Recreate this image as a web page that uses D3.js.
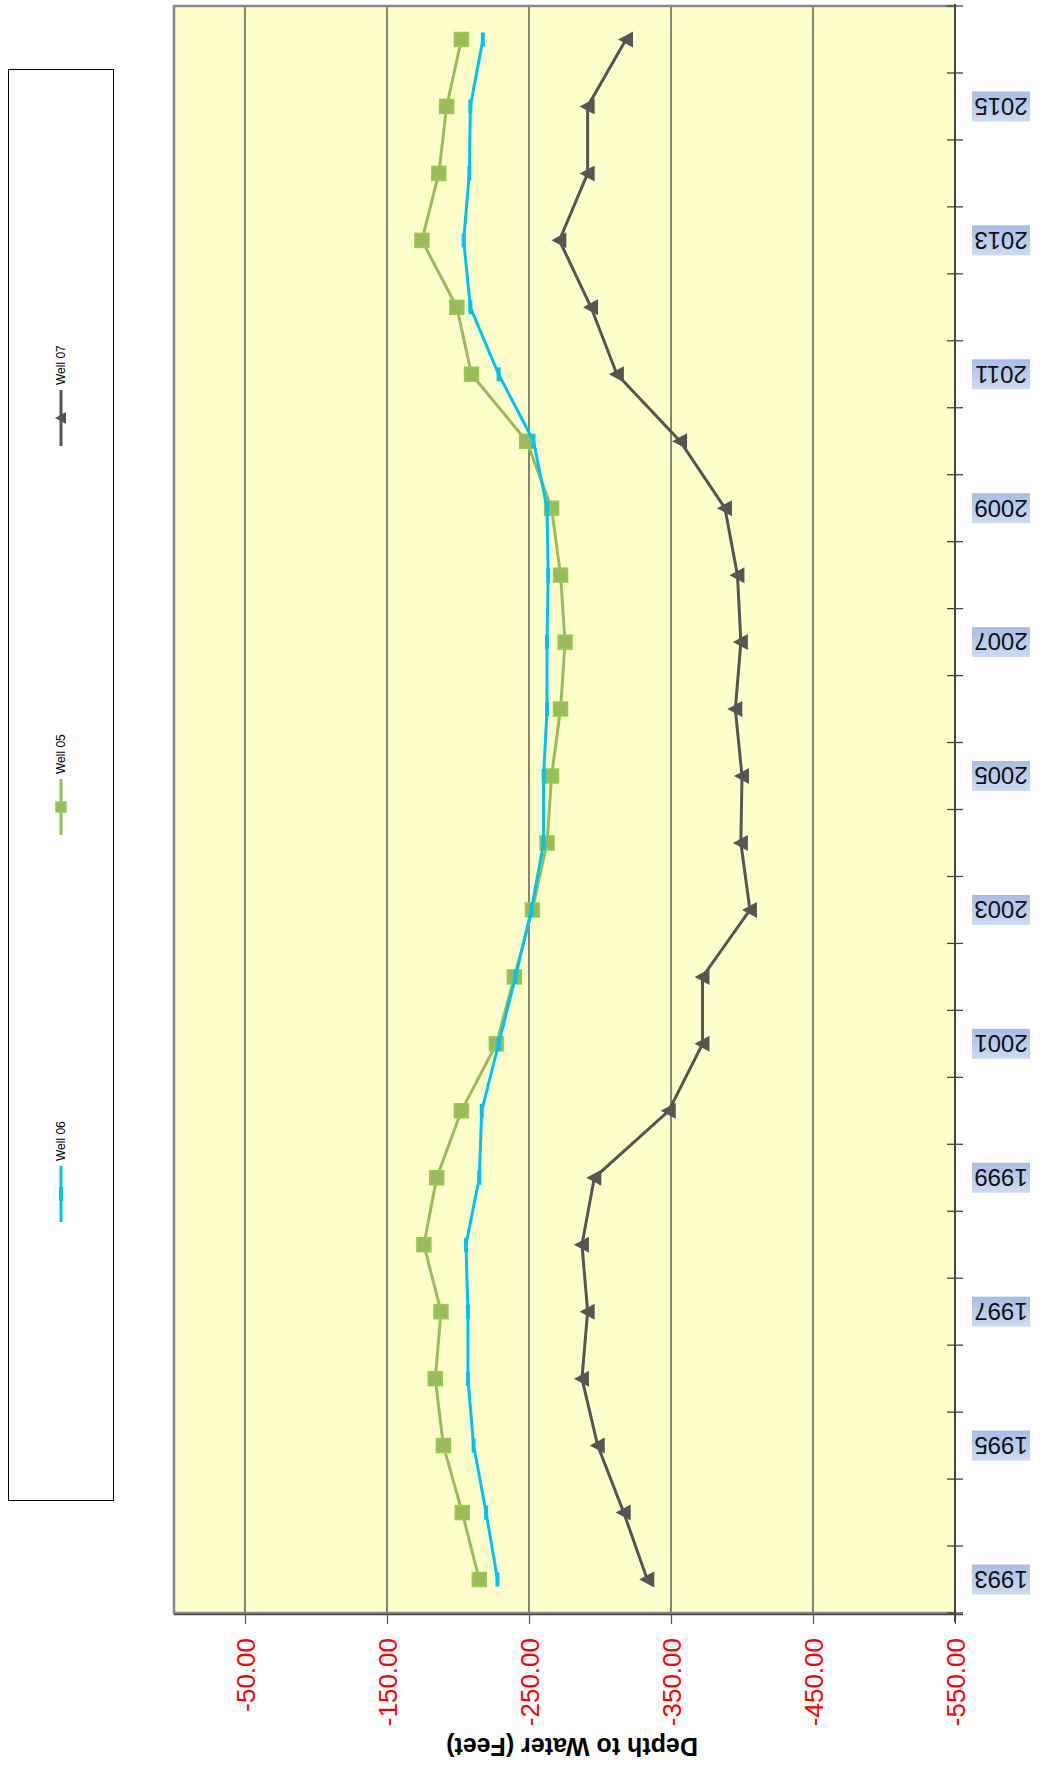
<!DOCTYPE html>
<html><head><meta charset="utf-8">
<script src="https://cdn.jsdelivr.net/npm/d3@7"></script>
<style>body{margin:0;background:#fff}svg{display:block;font-family:Arial,"Liberation Sans",sans-serif}</style>
</head><body>
<svg id="chart" width="1040" height="1767"></svg>
<script>
const years = ["1993","1994","1995","1996","1997","1998","1999","2000","2001","2002","2003","2004","2005","2006","2007","2008","2009","2010","2011","2012","2013","2014","2015","2016"];
const yearLabels = ["1993","1995","1997","1999","2001","2003","2005","2007","2009","2011","2013","2015"];
const well06 = [-227.8,-219.8,-211,-207,-207,-205.6,-215,-216.7,-228.6,-240.5,-251.6,-260.3,-260.3,-262.7,-262.7,-263.5,-262.7,-253.2,-228.6,-208.7,-204,-208,-208.7,-217.5];
const well05 = [-215,-203,-189.7,-184,-188,-176,-185,-202.4,-227,-239.7,-252.4,-262.7,-265.9,-272.2,-275.4,-272.2,-265.9,-248.4,-209.5,-199.2,-174.6,-186.5,-192,-202.4];
const well07 = [-333.3,-316.7,-298.4,-287.3,-291.3,-287.3,-296,-348.4,-372.2,-372.2,-405.6,-399.2,-400,-395.3,-399.2,-396.8,-388,-356.4,-311.9,-293.7,-271.4,-291.3,-291.3,-318.3];
const valueTicks = [-50,-150,-250,-350,-450,-550];
const seriesNames = ["Well 06","Well 05","Well 07"];

const svg = d3.select("#chart");
const L = 174, R = 955, T = 6, B = 1613;
const x = d3.scaleLinear().domain([0,-550]).range([L,R]);
const y = d3.scaleBand().domain(years.slice().reverse()).range([T,B]).padding(0);
const yc = d => y(d) + y.bandwidth()/2;

// defs
const defs = svg.append("defs");
const g1 = defs.append("linearGradient").attr("id","lblgrad").attr("x1",0).attr("y1",0).attr("x2",0).attr("y2",1);
g1.append("stop").attr("offset","0%").attr("stop-color","#a7bde6");
g1.append("stop").attr("offset","100%").attr("stop-color","#cddbf2");

// plot background
svg.append("rect").attr("x",L).attr("y",T).attr("width",R-L).attr("height",B-T).attr("fill","#ffffcc");

// gridlines
svg.append("g").selectAll("line").data(valueTicks).join("line")
  .attr("x1",d=>x(d)).attr("x2",d=>x(d)).attr("y1",T).attr("y2",B)
  .attr("stroke","#333").attr("stroke-width",1.2);

// plot border (left, top, bottom)
svg.append("path").attr("d",`M${R},${T}H${L}V${B}H${R}`).attr("fill","none").attr("stroke","#888").attr("stroke-width",2.5);

// bottom value axis
const fmt = d => d3.format(".2f")(d).replace("\u2212","-");
const xAxis = d3.axisBottom(x).tickValues(valueTicks).tickSize(10).tickSizeOuter(0).tickFormat(fmt);
const gx = svg.append("g").attr("transform",`translate(0,${B+1})`).call(xAxis);
gx.select(".domain").attr("d",`M${L},0.5H${R+8}`).attr("stroke","#444").attr("stroke-width",1.5);
gx.selectAll(".tick line").attr("stroke","#555").attr("stroke-width",1.2);
gx.selectAll(".tick text")
  .attr("fill","#ff0000").attr("font-size",26).attr("font-family","Arial, 'Liberation Sans', sans-serif")
  .attr("text-anchor","end").attr("dy","0.35em").attr("x",0).attr("y",0)
  .attr("transform","translate(0,24) rotate(-90)");

// right category axis
const bounds = years.map(d=>y(d)).concat([B]);
const ga = svg.append("g");
ga.append("line").attr("x1",R).attr("x2",R).attr("y1",T-2).attr("y2",B+9).attr("stroke","#444").attr("stroke-width",2);
ga.selectAll("line.tk").data(bounds).join("line").attr("class","tk")
  .attr("x1",R-8).attr("x2",R+8).attr("y1",d=>d).attr("y2",d=>d).attr("stroke","#444").attr("stroke-width",1.3);
const lbl = ga.selectAll("g.lbl").data(yearLabels).join("g").attr("class","lbl")
  .attr("transform",d=>`translate(1001,${yc(d)})`);
lbl.append("rect").attr("x",-29).attr("y",-15).attr("width",58).attr("height",30).attr("fill","url(#lblgrad)");
lbl.append("text").text(d=>d).attr("text-anchor","middle").attr("dy","0.36em")
  .attr("transform","rotate(180)").attr("font-size",24).attr("fill","#111");

// axis title
svg.append("text").text("Depth to Water (Feet)")
  .attr("transform","translate(572,1747) rotate(180)")
  .attr("text-anchor","middle").attr("dy","0.35em").attr("font-weight","bold").attr("font-size",25).attr("fill","#000");

// series
const line = d3.line().x(d=>x(d.v)).y(d=>yc(d.yr));
const mk = arr => arr.map((v,i)=>({yr:years[i], v}));
const s06 = mk(well06), s05 = mk(well05), s07 = mk(well07);
const colors = {w06:"#00c3f5", w05:"#9bbb59", w07:"#555555"};

function drawTri(sel){ sel.attr("d","M-8,0L7,-8L7,8Z").attr("fill",colors.w07); }
function drawSq(sel){ sel.attr("x",-7).attr("y",-7).attr("width",14).attr("height",14).attr("fill","#9bbb59").attr("stroke","#92cf50").attr("stroke-width",1.5); }
function drawDash(sel){ sel.attr("x",-2).attr("y",-7).attr("width",4).attr("height",14).attr("fill",colors.w06); }

// Well 07
svg.append("path").datum(s07).attr("d",line).attr("fill","none").attr("stroke",colors.w07).attr("stroke-width",3);
svg.append("g").selectAll("path").data(s07).join("path")
  .attr("transform",d=>`translate(${x(d.v)},${yc(d.yr)})`).call(drawTri);
// Well 05
svg.append("path").datum(s05).attr("d",line).attr("fill","none").attr("stroke",colors.w05).attr("stroke-width",3);
svg.append("g").selectAll("rect").data(s05).join("rect")
  .attr("transform",d=>`translate(${x(d.v)},${yc(d.yr)})`).call(drawSq);
// Well 06
svg.append("path").datum(s06).attr("d",line).attr("fill","none").attr("stroke",colors.w06).attr("stroke-width",3);
svg.append("g").selectAll("rect").data(s06).join("rect")
  .attr("transform",d=>`translate(${x(d.v)},${yc(d.yr)})`).call(drawDash);

// legend
svg.append("rect").attr("x",8.5).attr("y",69.5).attr("width",105).attr("height",1431).attr("fill","#fff").attr("stroke","#000").attr("stroke-width",1);
const legendCenters = [1194, 807, 418];
const lg = svg.append("g").selectAll("g").data(seriesNames).join("g")
  .attr("transform",(d,i)=>`translate(61,${legendCenters[i]})`);
lg.append("line").attr("x1",0).attr("x2",0).attr("y1",-28).attr("y2",28)
  .attr("stroke",(d,i)=>[colors.w06,colors.w05,colors.w07][i]).attr("stroke-width",3);
lg.each(function(d,i){
  const g = d3.select(this);
  if(i===0) g.append("rect").call(drawDash);
  if(i===1) g.append("rect").call(drawSq).attr("x",-5).attr("y",-5).attr("width",10).attr("height",10);
  if(i===2) g.append("path").attr("d","M-6,0L5,-6L5,6Z").attr("fill",colors.w07);
});
lg.append("text").text(d=>d).attr("transform","translate(0,-33) rotate(-90)")
  .attr("text-anchor","start").attr("dy","0.35em").attr("font-size",12).attr("fill","#000");
</script>
</body></html>
